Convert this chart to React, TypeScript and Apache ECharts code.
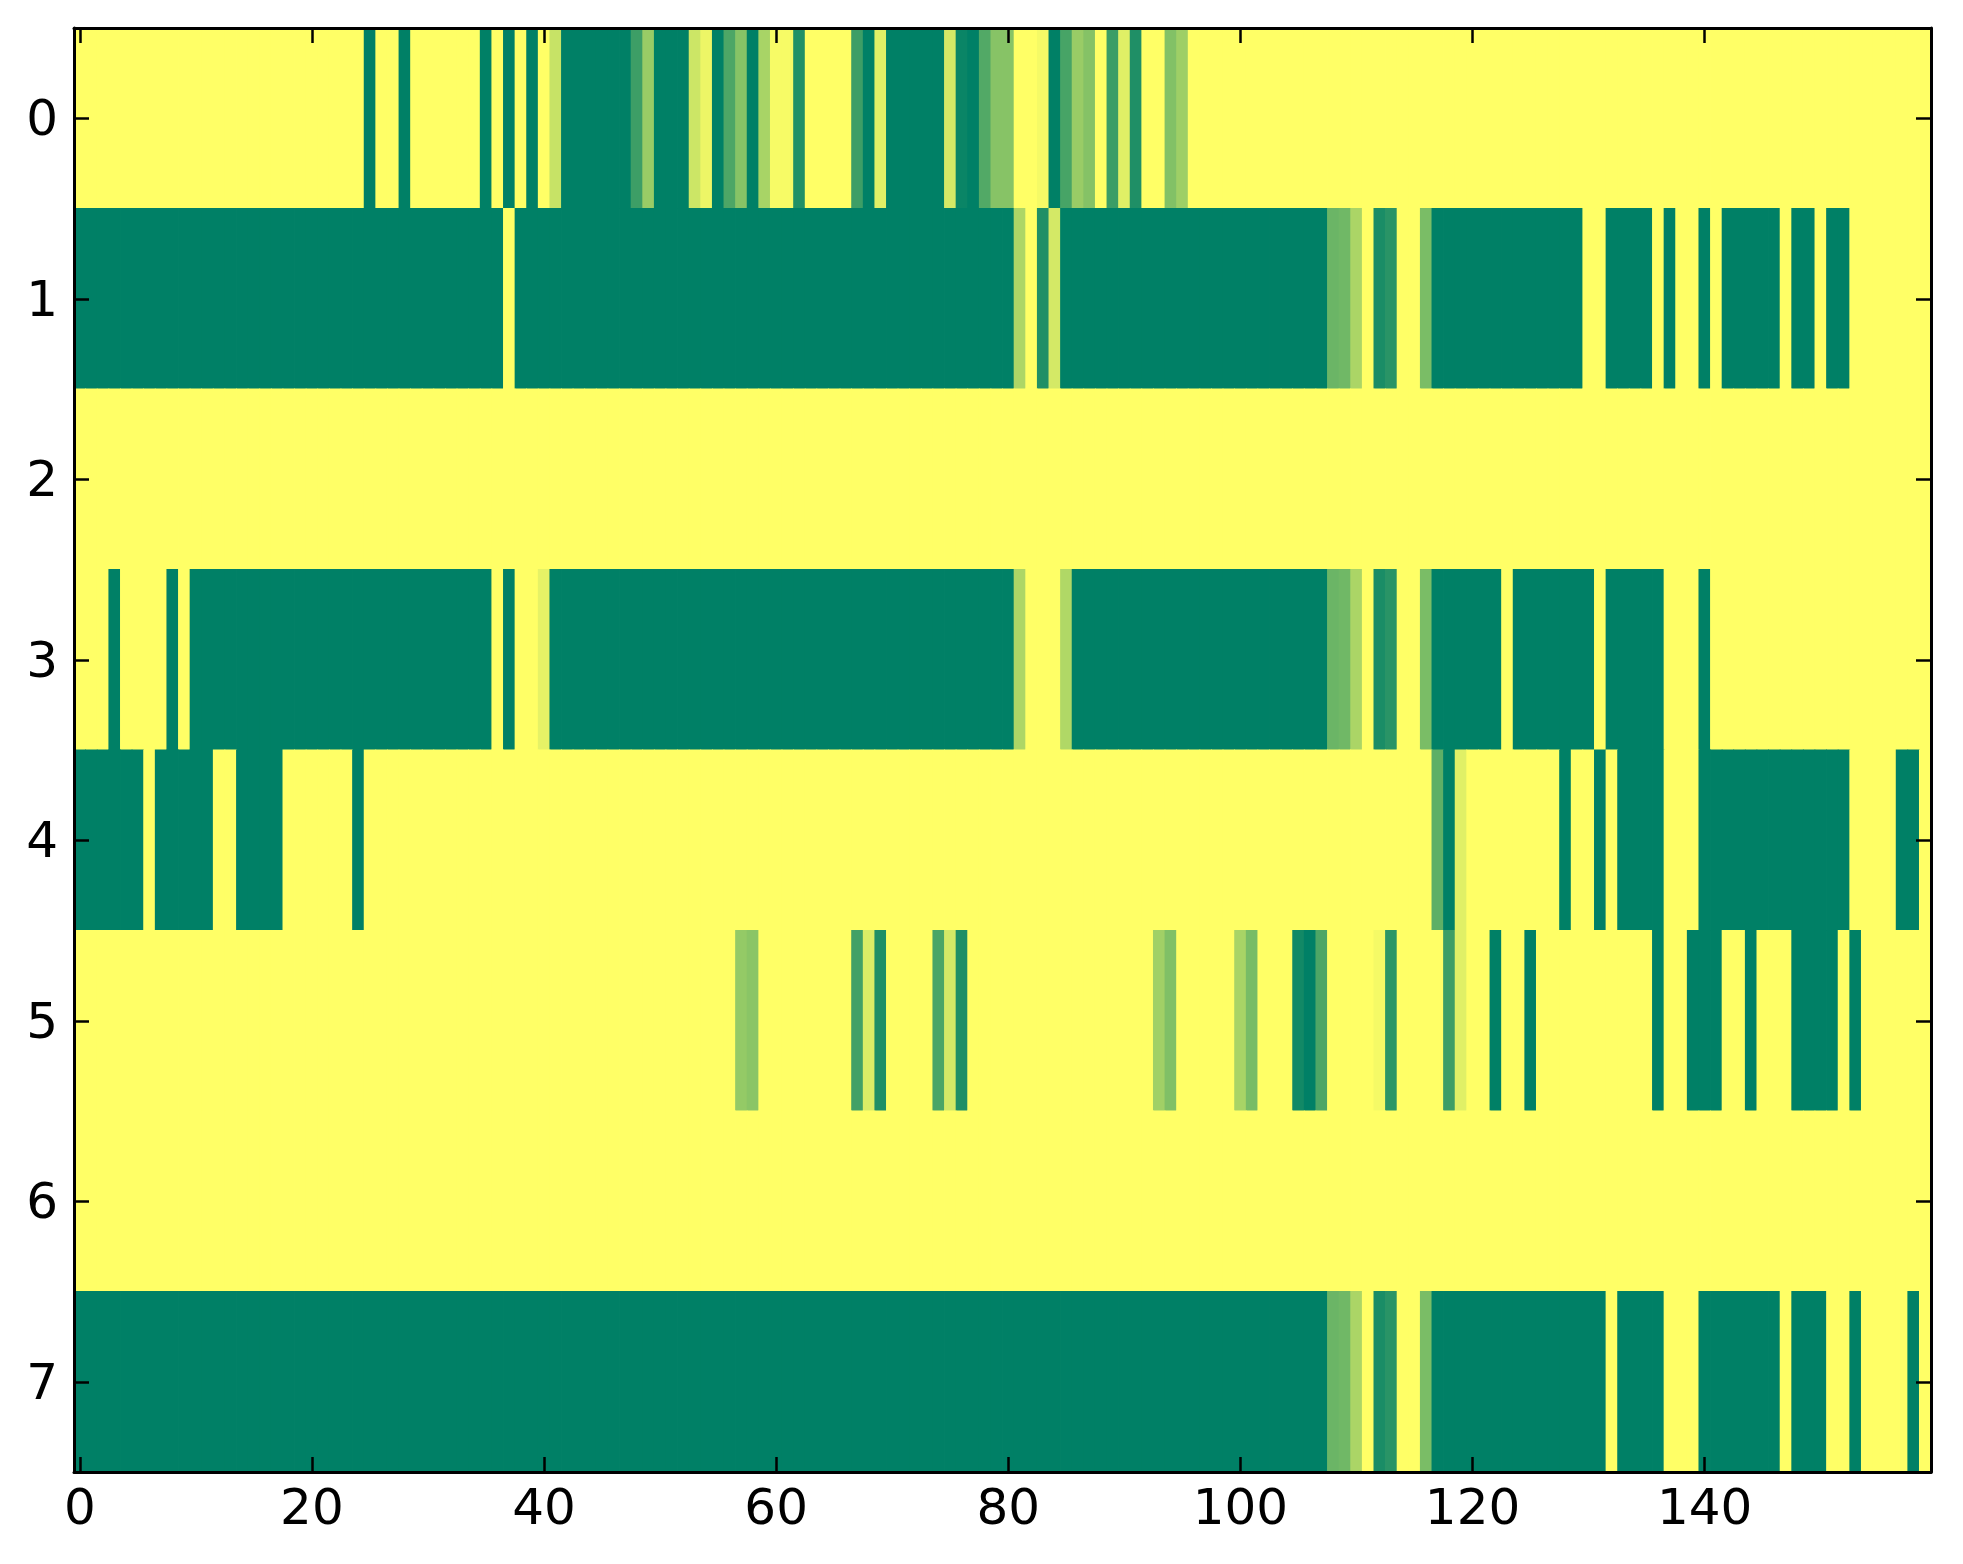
import React, { useEffect, useRef } from "react";
import * as echarts from "echarts";

// Row values (0 = yellow, 1 = green), 160 columns each
const row0 = [
  0, 0, 0, 0, 0, 0, 0, 0, 0, 0, 0, 0, 0, 0, 0, 0,
  0, 0, 0, 0, 0, 0, 0, 0, 0, 1, 0, 0, 1, 0, 0, 0,
  0, 0, 0, 1, 0, 1, 0, 1, 0, 0.22, 1, 1, 1, 1, 1, 1,
  0.76, 0.4, 1, 1, 1, 0.2, 0.07, 1, 0.7, 0.47, 1, 0.34, 0.03, 0.03, 0.87, 0,
  0, 0, 0, 0.76, 1, 0.12, 1, 1, 1, 1, 1, 0.17, 0.96, 1, 0.68, 0.47,
  0.47, 0, 0, 0.04, 1, 0.72, 0.4, 0.48, 0, 0.77, 0.12, 0.88, 0, 0, 0.49, 0.38,
  0, 0, 0, 0, 0, 0, 0, 0, 0, 0, 0, 0, 0, 0, 0, 0,
  0, 0, 0, 0, 0, 0, 0, 0, 0, 0, 0, 0, 0, 0, 0, 0,
  0, 0, 0, 0, 0, 0, 0, 0, 0, 0, 0, 0, 0, 0, 0, 0,
  0, 0, 0, 0, 0, 0, 0, 0, 0, 0, 0, 0, 0, 0, 0, 0,
];
const row1 = [
  1, 1, 1, 1, 1, 1, 1, 1, 1, 1, 1, 1, 1, 1, 1, 1,
  1, 1, 1, 1, 1, 1, 1, 1, 1, 1, 1, 1, 1, 1, 1, 1,
  1, 1, 1, 1, 1, 0, 1, 1, 1, 1, 1, 1, 1, 1, 1, 1,
  1, 1, 1, 1, 1, 1, 1, 1, 1, 1, 1, 1, 1, 1, 1, 1,
  1, 1, 1, 1, 1, 1, 1, 1, 1, 1, 1, 1, 1, 1, 1, 1,
  1, 0.32, 0, 0.88, 0.17, 1, 1, 1, 1, 1, 1, 1, 1, 1, 1, 1,
  1, 1, 1, 1, 1, 1, 1, 1, 1, 1, 1, 1, 0.58, 0.56, 0.33, 0,
  0.9, 0.84, 0, 0, 0.52, 1, 1, 1, 1, 1, 1, 1, 1, 1, 1, 1,
  1, 1, 0, 0, 1, 1, 1, 1, 0, 1, 0, 0, 1, 0, 1, 1,
  1, 1, 1, 0, 1, 1, 0, 1, 1, 0, 0, 0, 0, 0, 0, 0,
];
const row2 = [
  0, 0, 0, 0, 0, 0, 0, 0, 0, 0, 0, 0, 0, 0, 0, 0,
  0, 0, 0, 0, 0, 0, 0, 0, 0, 0, 0, 0, 0, 0, 0, 0,
  0, 0, 0, 0, 0, 0, 0, 0, 0, 0, 0, 0, 0, 0, 0, 0,
  0, 0, 0, 0, 0, 0, 0, 0, 0, 0, 0, 0, 0, 0, 0, 0,
  0, 0, 0, 0, 0, 0, 0, 0, 0, 0, 0, 0, 0, 0, 0, 0,
  0, 0, 0, 0, 0, 0, 0, 0, 0, 0, 0, 0, 0, 0, 0, 0,
  0, 0, 0, 0, 0, 0, 0, 0, 0, 0, 0, 0, 0, 0, 0, 0,
  0, 0, 0, 0, 0, 0, 0, 0, 0, 0, 0, 0, 0, 0, 0, 0,
  0, 0, 0, 0, 0, 0, 0, 0, 0, 0, 0, 0, 0, 0, 0, 0,
  0, 0, 0, 0, 0, 0, 0, 0, 0, 0, 0, 0, 0, 0, 0, 0,
];
const row3 = [
  0, 0, 0, 1, 0, 0, 0, 0, 1, 0, 1, 1, 1, 1, 1, 1,
  1, 1, 1, 1, 1, 1, 1, 1, 1, 1, 1, 1, 1, 1, 1, 1,
  1, 1, 1, 1, 0, 1, 0, 0, 0.1, 1, 1, 1, 1, 1, 1, 1,
  1, 1, 1, 1, 1, 1, 1, 1, 1, 1, 1, 1, 1, 1, 1, 1,
  1, 1, 1, 1, 1, 1, 1, 1, 1, 1, 1, 1, 1, 1, 1, 1,
  1, 0.32, 0, 0, 0, 0.31, 1, 1, 1, 1, 1, 1, 1, 1, 1, 1,
  1, 1, 1, 1, 1, 1, 1, 1, 1, 1, 1, 1, 0.58, 0.56, 0.33, 0,
  0.9, 0.84, 0, 0, 0.52, 1, 1, 1, 1, 1, 1, 0, 1, 1, 1, 1,
  1, 1, 1, 0, 1, 1, 1, 1, 1, 0, 0, 0, 1, 0, 0, 0,
  0, 0, 0, 0, 0, 0, 0, 0, 0, 0, 0, 0, 0, 0, 0, 0,
];
const row4 = [
  1, 1, 1, 1, 1, 1, 0, 1, 1, 1, 1, 1, 0, 0, 1, 1,
  1, 1, 0, 0, 0, 0, 0, 0, 1, 0, 0, 0, 0, 0, 0, 0,
  0, 0, 0, 0, 0, 0, 0, 0, 0, 0, 0, 0, 0, 0, 0, 0,
  0, 0, 0, 0, 0, 0, 0, 0, 0, 0, 0, 0, 0, 0, 0, 0,
  0, 0, 0, 0, 0, 0, 0, 0, 0, 0, 0, 0, 0, 0, 0, 0,
  0, 0, 0, 0, 0, 0, 0, 0, 0, 0, 0, 0, 0, 0, 0, 0,
  0, 0, 0, 0, 0, 0, 0, 0, 0, 0, 0, 0, 0, 0, 0, 0,
  0, 0, 0, 0, 0, 0.63, 1, 0.12, 0, 0, 0, 0, 0, 0, 0, 0,
  1, 0, 0, 1, 0, 1, 1, 1, 1, 0, 0, 0, 1, 1, 1, 1,
  1, 1, 1, 1, 1, 1, 1, 1, 1, 0, 0, 0, 0, 1, 1, 0,
];
const row5 = [
  0, 0, 0, 0, 0, 0, 0, 0, 0, 0, 0, 0, 0, 0, 0, 0,
  0, 0, 0, 0, 0, 0, 0, 0, 0, 0, 0, 0, 0, 0, 0, 0,
  0, 0, 0, 0, 0, 0, 0, 0, 0, 0, 0, 0, 0, 0, 0, 0,
  0, 0, 0, 0, 0, 0, 0, 0, 0, 0.42, 0.46, 0, 0, 0, 0, 0,
  0, 0, 0, 0.74, 0.14, 0.88, 0, 0, 0, 0, 0.71, 0.17, 0.88, 0, 0, 0,
  0, 0, 0, 0, 0, 0, 0, 0, 0, 0, 0, 0, 0, 0.37, 0.5, 0,
  0, 0, 0, 0, 0.34, 0.53, 0, 0, 0, 0.93, 1, 0.7, 0, 0, 0, 0,
  0.04, 0.83, 0, 0, 0, 0, 0.76, 0.12, 0, 0, 1, 0, 0, 1, 0, 0,
  0, 0, 0, 0, 0, 0, 0, 0, 1, 0, 0, 1, 1, 1, 0, 0,
  1, 0, 0, 0, 1, 1, 1, 1, 0, 1, 0, 0, 0, 0, 0, 0,
];
const row6 = [
  0, 0, 0, 0, 0, 0, 0, 0, 0, 0, 0, 0, 0, 0, 0, 0,
  0, 0, 0, 0, 0, 0, 0, 0, 0, 0, 0, 0, 0, 0, 0, 0,
  0, 0, 0, 0, 0, 0, 0, 0, 0, 0, 0, 0, 0, 0, 0, 0,
  0, 0, 0, 0, 0, 0, 0, 0, 0, 0, 0, 0, 0, 0, 0, 0,
  0, 0, 0, 0, 0, 0, 0, 0, 0, 0, 0, 0, 0, 0, 0, 0,
  0, 0, 0, 0, 0, 0, 0, 0, 0, 0, 0, 0, 0, 0, 0, 0,
  0, 0, 0, 0, 0, 0, 0, 0, 0, 0, 0, 0, 0, 0, 0, 0,
  0, 0, 0, 0, 0, 0, 0, 0, 0, 0, 0, 0, 0, 0, 0, 0,
  0, 0, 0, 0, 0, 0, 0, 0, 0, 0, 0, 0, 0, 0, 0, 0,
  0, 0, 0, 0, 0, 0, 0, 0, 0, 0, 0, 0, 0, 0, 0, 0,
];
const row7 = [
  1, 1, 1, 1, 1, 1, 1, 1, 1, 1, 1, 1, 1, 1, 1, 1,
  1, 1, 1, 1, 1, 1, 1, 1, 1, 1, 1, 1, 1, 1, 1, 1,
  1, 1, 1, 1, 1, 1, 1, 1, 1, 1, 1, 1, 1, 1, 1, 1,
  1, 1, 1, 1, 1, 1, 1, 1, 1, 1, 1, 1, 1, 1, 1, 1,
  1, 1, 1, 1, 1, 1, 1, 1, 1, 1, 1, 1, 1, 1, 1, 1,
  1, 1, 1, 1, 1, 1, 1, 1, 1, 1, 1, 1, 1, 1, 1, 1,
  1, 1, 1, 1, 1, 1, 1, 1, 1, 1, 1, 1, 0.58, 0.56, 0.33, 0,
  0.9, 0.84, 0, 0, 0.52, 1, 1, 1, 1, 1, 1, 1, 1, 1, 1, 1,
  1, 1, 1, 1, 0, 1, 1, 1, 1, 0, 0, 0, 1, 1, 1, 1,
  1, 1, 1, 0, 1, 1, 1, 0, 0, 1, 0, 0, 0, 0, 1, 0,
];

const rows = [row0, row1, row2, row3, row4, row5, row6, row7];
const yTickLabels = ["0", "1", "2", "3", "4", "5", "6", "7"];
const xTickLabels = ["0", "20", "40", "60", "80", "100", "120", "140"];
const colormap = ["#ffff66", "#008066"]; // summer_r endpoints

export default function App() {
  const ref = useRef<HTMLDivElement>(null);

  useEffect(() => {
    if (!ref.current) return;
    const chart = echarts.init(ref.current, undefined, { renderer: "svg" });

    const nCols = rows[0].length;
    const xCats = Array.from({ length: nCols }, (_, i) => String(i));
    const data: number[][] = [];
    rows.forEach((r, ri) => r.forEach((v, ci) => data.push([ci, ri, v])));

    const showX = (index: number) => xTickLabels.includes(String(index));
    const font = {
      color: "#000",
      fontSize: 50,
      fontFamily: "DejaVu Sans",
    };
    const line = { lineStyle: { color: "#000", width: 3 } };
    const tick = { color: "#000", width: 2.5 };

    const xBase = (pos: "top" | "bottom", labels: boolean) => ({
      type: "category",
      data: xCats,
      position: pos,
      boundaryGap: true,
      z: 10,
      axisLine: { show: true, onZero: false, ...line },
      axisTick: {
        show: true,
        inside: true,
        length: 15,
        alignWithLabel: true,
        interval: showX,
        lineStyle: tick,
      },
      axisLabel: { show: labels, interval: showX, margin: 10, ...font },
      splitLine: { show: false },
    });
    const yBase = (pos: "left" | "right", labels: boolean) => ({
      type: "category",
      data: yTickLabels,
      inverse: true,
      position: pos,
      boundaryGap: true,
      z: 10,
      axisLine: { show: true, onZero: false, ...line },
      axisTick: {
        show: true,
        inside: true,
        length: 15,
        alignWithLabel: true,
        interval: 0,
        lineStyle: tick,
      },
      axisLabel: { show: labels, interval: 0, margin: 16, ...font },
      splitLine: { show: false },
    });

    chart.setOption({
      animation: false,
      backgroundColor: "#ffffff",
      grid: { left: 74, right: 32, top: 28, bottom: 92, containLabel: false },
      visualMap: {
        show: false,
        min: 0,
        max: 1,
        dimension: 2,
        seriesIndex: 0,
        inRange: { color: colormap },
      },
      xAxis: [xBase("bottom", true), xBase("top", false)],
      yAxis: [yBase("left", true), yBase("right", false)],
      series: [
        {
          type: "custom",
          xAxisIndex: 0,
          yAxisIndex: 0,
          data,
          encode: { x: 0, y: 1 },
          clip: true,
          renderItem: (params: any, api: any) => {
            const p = api.coord([api.value(0), api.value(1)]);
            const s = api.size([1, 1]);
            const pad = 0.4;
            return {
              type: "rect",
              shape: {
                x: p[0] - s[0] / 2 - pad,
                y: p[1] - s[1] / 2 - pad,
                width: s[0] + 2 * pad,
                height: s[1] + 2 * pad,
              },
              style: { fill: api.visual("color") },
            };
          },
        },
      ],
    });

    return () => chart.dispose();
  }, []);

  return (
    <div
      ref={ref}
      style={{ position: "fixed", left: 0, top: 0, width: 1963, height: 1564, background: "#fff" }}
    />
  );
}
